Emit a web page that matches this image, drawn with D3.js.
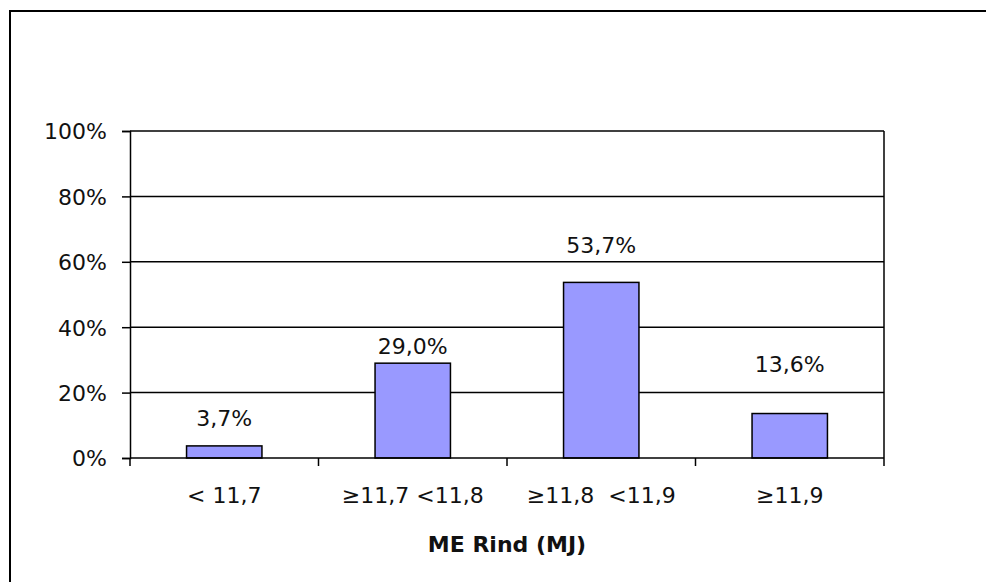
<html>
<script src='https://d3js.org/d3.v7.min.js'></script>
<style>
  body {margin: 0; background: #fff;}
  text {font-family: 'DejaVu Sans', sans-serif; font-size: 22px; fill: #111;}
</style>
<body onload='init()'>
<svg width=986 height=582></svg>
<script>
// chart values
var categories = ['< 11,7', '\u226511,7 <11,8', '\u226511,8  <11,9', '\u226511,9'];
var shares = [3.7, 29.0, 53.7, 13.6];
var shareLabels = ['3,7%', '29,0%', '53,7%', '13,6%'];
var yTicks = [0, 20, 40, 60, 80, 100];
var xTitle = 'ME Rind (MJ)';

// labels sit at uneven heights above the bars in the original
var labelLift = [20, 9, 29, 42];

function init() {
  var svg = d3.select('svg');
  var left = 130, right = 884, top = 131, bottom = 458;

  // outer frame
  svg.append('rect')
    .attr('x', 10).attr('y', 11)
    .attr('width', 1000).attr('height', 600)
    .attr('fill', 'none').attr('stroke', '#000').attr('stroke-width', 2);

  var x = d3.scaleBand()
    .domain(categories)
    .range([left, right])
    .paddingInner(0.6)
    .paddingOuter(0.3);
  var y = d3.scaleLinear().domain([0, 100]).range([bottom, top]);

  // gridlines
  svg.append('g').selectAll('line')
    .data(yTicks.slice(1))
    .enter().append('line')
      .attr('x1', left).attr('x2', right)
      .attr('y1', d => y(d)).attr('y2', d => y(d))
      .attr('stroke', '#000').attr('stroke-width', 1.5);

  // right border of the plot
  svg.append('line')
    .attr('x1', right).attr('x2', right)
    .attr('y1', top).attr('y2', bottom)
    .attr('stroke', '#000').attr('stroke-width', 1.5);

  // bars
  svg.append('g').selectAll('rect')
    .data(shares)
    .enter().append('rect')
      .attr('x', (d, i) => x(categories[i]))
      .attr('y', d => y(d))
      .attr('width', x.bandwidth())
      .attr('height', d => y(0) - y(d))
      .attr('fill', '#9999ff')
      .attr('stroke', '#000').attr('stroke-width', 1.5);

  // value labels
  svg.append('g').selectAll('text')
    .data(shares)
    .enter().append('text')
      .attr('x', (d, i) => x(categories[i]) + x.bandwidth() / 2)
      .attr('y', (d, i) => y(d) - labelLift[i])
      .attr('text-anchor', 'middle')
      .text((d, i) => shareLabels[i]);

  // y axis
  var yAxis = svg.append('g')
    .attr('transform', 'translate(' + left + ',0)')
    .call(d3.axisLeft(y).tickValues(yTicks).tickSize(8).tickPadding(15)
      .tickFormat(d => d + '%'));
  yAxis.select('.domain').attr('stroke', '#000').attr('stroke-width', 1.5);
  yAxis.selectAll('line').attr('stroke', '#000').attr('stroke-width', 1.5);
  yAxis.selectAll('text').attr('font-size', 22).attr('font-family', null).attr('dy', '0.36em');

  // x axis: ticks on category boundaries
  var xAxis = svg.append('g');
  xAxis.append('line')
    .attr('x1', left).attr('x2', right)
    .attr('y1', bottom).attr('y2', bottom)
    .attr('stroke', '#000').attr('stroke-width', 1.5);
  var bounds = categories.map(c => x(c) - x.step() * x.paddingOuter()).concat([right]);
  xAxis.selectAll('.tk')
    .data(bounds)
    .enter().append('line')
      .attr('class', 'tk')
      .attr('x1', d => d).attr('x2', d => d)
      .attr('y1', bottom).attr('y2', bottom + 8)
      .attr('stroke', '#000').attr('stroke-width', 1.5);
  xAxis.selectAll('text')
    .data(categories)
    .enter().append('text')
      .attr('x', d => x(d) + x.bandwidth() / 2)
      .attr('y', bottom + 45)
      .attr('text-anchor', 'middle')
      .style('white-space', 'pre')
      .text(d => d);

  svg.append('text')
    .attr('x', (left + right) / 2)
    .attr('y', 552)
    .attr('text-anchor', 'middle')
    .attr('font-weight', 'bold')
    .text(xTitle);
}
</script>
</body>
</html>
